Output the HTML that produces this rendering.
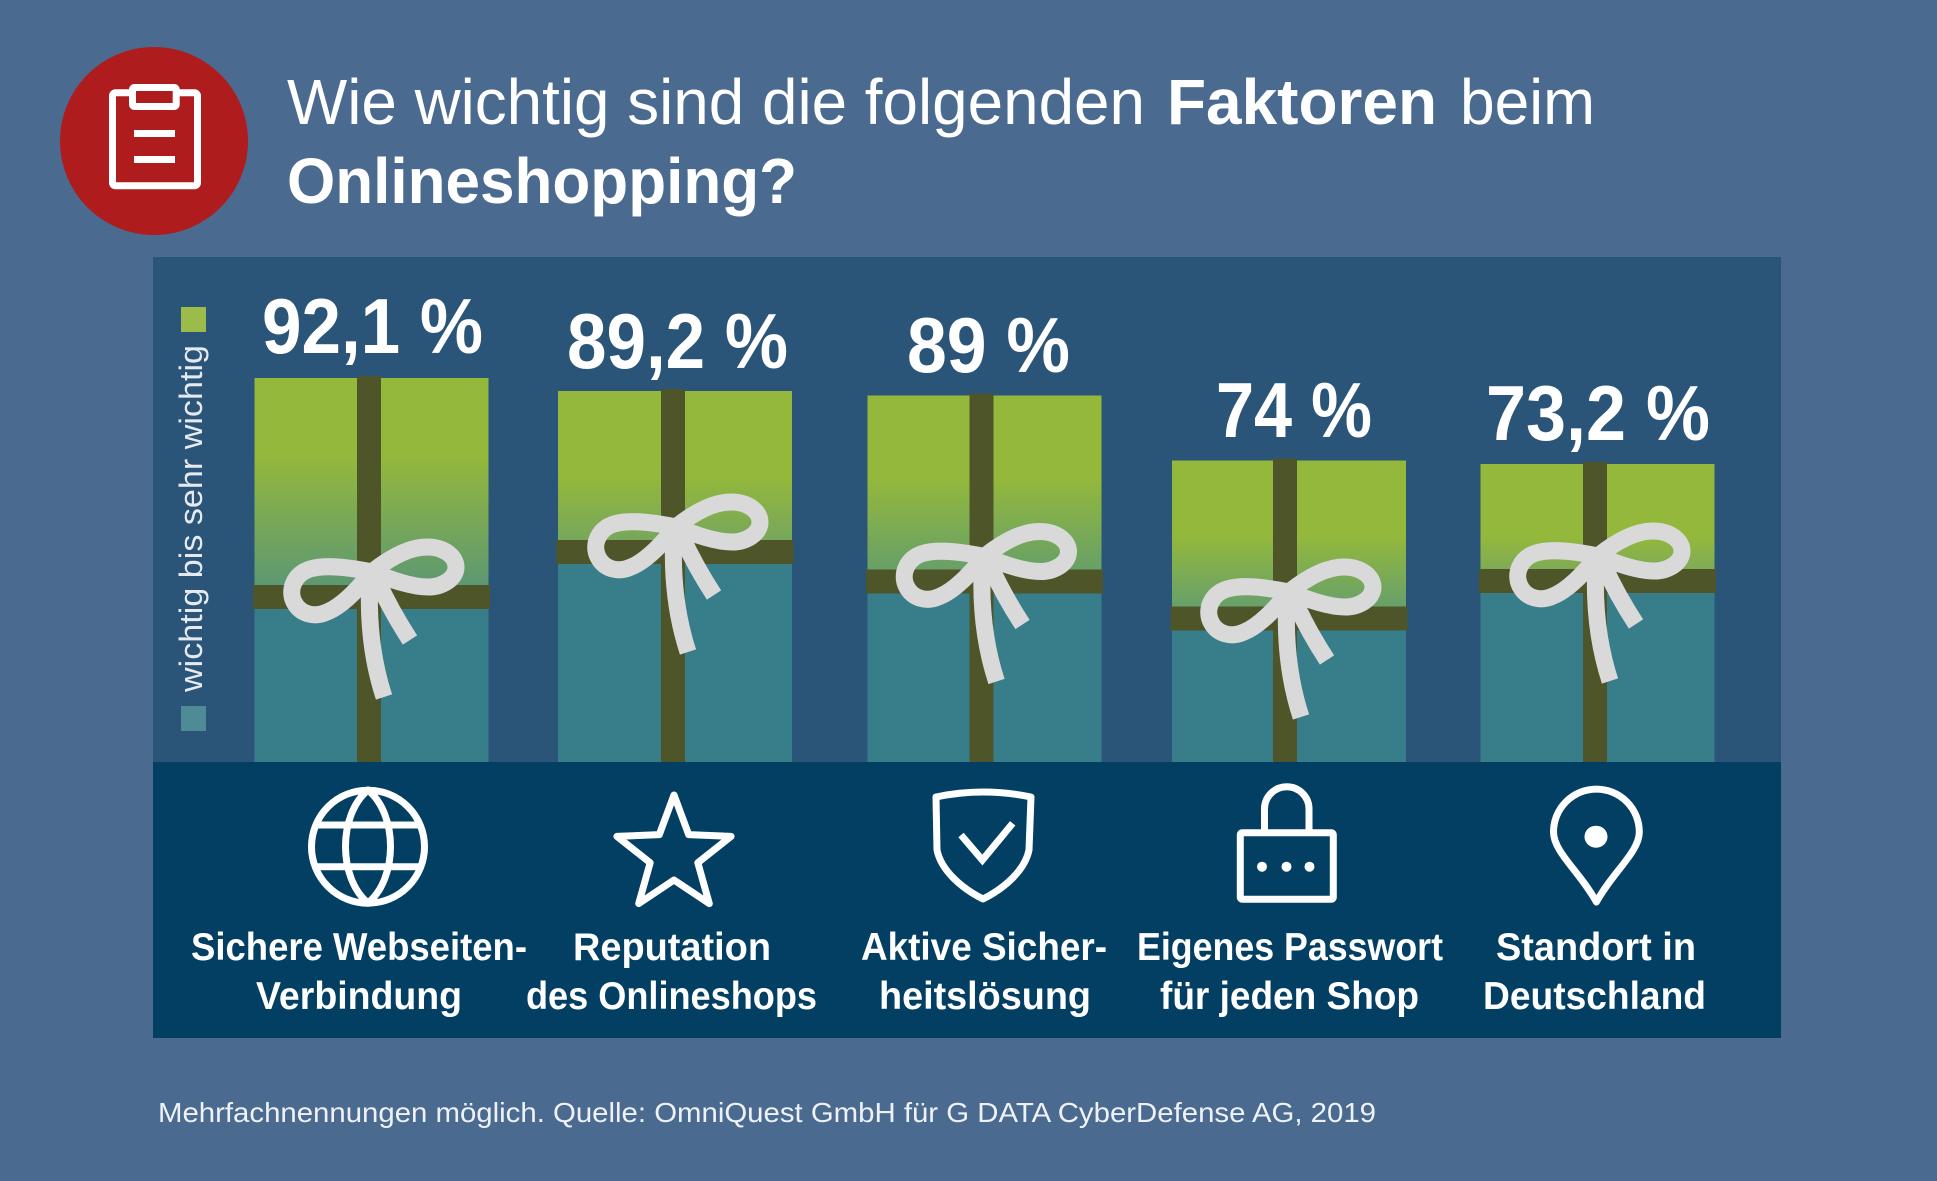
<!DOCTYPE html>
<html><head><meta charset="utf-8"><style>
html,body{margin:0;padding:0;background:#4a6a8f;}
svg{display:block;}
text{font-family:"Liberation Sans",sans-serif;}
</style></head><body>
<svg width="1937" height="1181" viewBox="0 0 1937 1181" xmlns="http://www.w3.org/2000/svg">
<defs>
<linearGradient id="g1" x1="0" y1="0" x2="0" y2="1"><stop offset="0.38" stop-color="#93b83c"/><stop offset="1" stop-color="#5e9872"/></linearGradient>
<linearGradient id="g2" x1="0" y1="0" x2="0" y2="1"><stop offset="0.58" stop-color="#93b83c"/><stop offset="1" stop-color="#77a75b"/></linearGradient>
<linearGradient id="g3" x1="0" y1="0" x2="0" y2="1"><stop offset="0.48" stop-color="#93b83c"/><stop offset="1" stop-color="#68a067"/></linearGradient>
<linearGradient id="g4" x1="0" y1="0" x2="0" y2="1"><stop offset="0.52" stop-color="#93b83c"/><stop offset="1" stop-color="#68a06a"/></linearGradient>
<linearGradient id="g5" x1="0" y1="0" x2="0" y2="1"><stop offset="0.70" stop-color="#93b83c"/><stop offset="1" stop-color="#80ab56"/></linearGradient>
</defs>
<rect width="1937" height="1181" fill="#4a6a8f"/>

<!-- header icon -->
<circle cx="154" cy="141" r="94" fill="#ae1c1e"/>
<rect x="112.5" y="92.8" width="85" height="93" rx="3" fill="none" stroke="#fff" stroke-width="7"/>
<rect x="132.5" y="87.5" width="43.7" height="19" rx="2" fill="#ae1c1e" stroke="#fff" stroke-width="7"/>
<rect x="134" y="130" width="41" height="7" fill="#fff"/>
<rect x="134" y="156" width="41" height="7" fill="#fff"/>

<!-- title -->
<text x="287" y="124" font-size="64" fill="#fff" textLength="858" lengthAdjust="spacingAndGlyphs">Wie wichtig sind die folgenden</text>
<text x="1167" y="124" font-size="64" font-weight="bold" fill="#fff" textLength="270" lengthAdjust="spacingAndGlyphs">Faktoren</text>
<text x="1460" y="124" font-size="64" fill="#fff" textLength="135" lengthAdjust="spacingAndGlyphs">beim</text>
<text x="287" y="203" font-size="64" font-weight="bold" fill="#fff" textLength="510" lengthAdjust="spacingAndGlyphs">Onlineshopping?</text>

<!-- panel -->
<rect x="153" y="257" width="1628" height="505" fill="#2b5578"/>
<rect x="153" y="762" width="1628" height="276" fill="#023f63"/>

<!-- legend -->
<rect x="181" y="307" width="25" height="25" fill="#9bbb4b"/>
<rect x="181" y="706" width="25" height="25" fill="#4e8b97"/>
<text transform="translate(202,692) rotate(-90)" font-size="32" fill="#e4eaf0" textLength="347" lengthAdjust="spacingAndGlyphs">wichtig bis sehr wichtig</text>

<!-- gift 1 -->
<rect x="254.5" y="378" width="234" height="384" fill="#387e8a"/>
<rect x="254.5" y="378" width="234" height="207" fill="url(#g1)"/>
<rect x="357" y="376" width="24" height="386" fill="#4d5529"/>
<rect x="253" y="585" width="237" height="24" fill="#4d5529"/>
<g transform="translate(372,572)" fill="none" stroke="#d9d9d9" stroke-width="17">
<path d="M0,0 C-20,-4 -45,-8 -62,-3 C-78,2 -84,18 -78,30 C-72,42 -58,46 -45,40 C-30,34 -15,18 0,0"/>
<path d="M0,0 C15,-12 35,-25 55,-25 C73,-25 84,-15 84,-5 C84,7 70,15 56,15 C40,15 20,8 0,0"/>
<path d="M-2,5 C-4,40 -2,82 12,125"/>
<path d="M6,10 C15,30 25,48 38,68"/>
</g>
<text x="262" y="353" font-size="78" font-weight="bold" fill="#fff" textLength="221" lengthAdjust="spacingAndGlyphs">92,1 %</text>

<!-- gift 2 -->
<rect x="558" y="391" width="234" height="371" fill="#387e8a"/>
<rect x="558" y="391" width="234" height="149" fill="url(#g2)"/>
<rect x="661" y="389" width="24" height="373" fill="#4d5529"/>
<rect x="556.5" y="540" width="237" height="24" fill="#4d5529"/>
<g transform="translate(676,527)" fill="none" stroke="#d9d9d9" stroke-width="17">
<path d="M0,0 C-20,-4 -45,-8 -62,-3 C-78,2 -84,18 -78,30 C-72,42 -58,46 -45,40 C-30,34 -15,18 0,0"/>
<path d="M0,0 C15,-12 35,-25 55,-25 C73,-25 84,-15 84,-5 C84,7 70,15 56,15 C40,15 20,8 0,0"/>
<path d="M-2,5 C-4,40 -2,82 12,125"/>
<path d="M6,10 C15,30 25,48 38,68"/>
</g>
<text x="567" y="368" font-size="78" font-weight="bold" fill="#fff" textLength="221" lengthAdjust="spacingAndGlyphs">89,2 %</text>

<!-- gift 3 -->
<rect x="867.5" y="395.5" width="234" height="366.5" fill="#387e8a"/>
<rect x="867.5" y="395.5" width="234" height="174" fill="url(#g3)"/>
<rect x="969.5" y="393.5" width="24" height="368.5" fill="#4d5529"/>
<rect x="866" y="569.5" width="237" height="24" fill="#4d5529"/>
<g transform="translate(984.5,556.5)" fill="none" stroke="#d9d9d9" stroke-width="17">
<path d="M0,0 C-20,-4 -45,-8 -62,-3 C-78,2 -84,18 -78,30 C-72,42 -58,46 -45,40 C-30,34 -15,18 0,0"/>
<path d="M0,0 C15,-12 35,-25 55,-25 C73,-25 84,-15 84,-5 C84,7 70,15 56,15 C40,15 20,8 0,0"/>
<path d="M-2,5 C-4,40 -2,82 12,125"/>
<path d="M6,10 C15,30 25,48 38,68"/>
</g>
<text x="907" y="372" font-size="78" font-weight="bold" fill="#fff" textLength="163" lengthAdjust="spacingAndGlyphs">89 %</text>

<!-- gift 4 -->
<rect x="1172" y="460.5" width="234" height="301.5" fill="#387e8a"/>
<rect x="1172" y="460.5" width="234" height="146" fill="url(#g4)"/>
<rect x="1273" y="458.5" width="24" height="303.5" fill="#4d5529"/>
<rect x="1170.5" y="606.5" width="237" height="24" fill="#4d5529"/>
<g transform="translate(1289,592)" fill="none" stroke="#d9d9d9" stroke-width="17">
<path d="M0,0 C-20,-4 -45,-8 -62,-3 C-78,2 -84,18 -78,30 C-72,42 -58,46 -45,40 C-30,34 -15,18 0,0"/>
<path d="M0,0 C15,-12 35,-25 55,-25 C73,-25 84,-15 84,-5 C84,7 70,15 56,15 C40,15 20,8 0,0"/>
<path d="M-2,5 C-4,40 -2,82 12,125"/>
<path d="M6,10 C15,30 25,48 38,68"/>
</g>
<text x="1216" y="437" font-size="78" font-weight="bold" fill="#fff" textLength="156" lengthAdjust="spacingAndGlyphs">74 %</text>

<!-- gift 5 -->
<rect x="1480.5" y="464" width="234" height="298" fill="#387e8a"/>
<rect x="1480.5" y="464" width="234" height="105" fill="url(#g5)"/>
<rect x="1583" y="462" width="24" height="300" fill="#4d5529"/>
<rect x="1479" y="569" width="237" height="24" fill="#4d5529"/>
<g transform="translate(1598,556)" fill="none" stroke="#d9d9d9" stroke-width="17">
<path d="M0,0 C-20,-4 -45,-8 -62,-3 C-78,2 -84,18 -78,30 C-72,42 -58,46 -45,40 C-30,34 -15,18 0,0"/>
<path d="M0,0 C15,-12 35,-25 55,-25 C73,-25 84,-15 84,-5 C84,7 70,15 56,15 C40,15 20,8 0,0"/>
<path d="M-2,5 C-4,40 -2,82 12,125"/>
<path d="M6,10 C15,30 25,48 38,68"/>
</g>
<text x="1486" y="440" font-size="78" font-weight="bold" fill="#fff" textLength="224" lengthAdjust="spacingAndGlyphs">73,2 %</text>

<!-- icons -->
<g fill="none" stroke="#fff" stroke-width="7" stroke-linejoin="round">
<!-- globe -->
<circle cx="368" cy="846.7" r="56.5"/>
<path d="M368,790 C338,815 338,878 368,903 C398,878 398,815 368,790 Z"/>
<line x1="316" y1="825" x2="420" y2="825"/>
<line x1="316" y1="866.7" x2="420" y2="866.7"/>
<!-- star -->
<path d="M674,795 L688.7,834.6 L731.1,836.4 L697.8,862.7 L709.3,903.6 L674,880 L638.7,903.6 L650.2,862.7 L616.9,836.4 L659.3,834.6 Z"/>
<!-- shield -->
<path d="M936,797 Q983,787 1031,797 L1029,850 C1025,870 1005,888 983,899 C961,888 941,870 937,850 Z"/>
<path d="M961,835 L982.4,860 L1012.7,823.3" stroke-linejoin="miter"/>
<!-- lock -->
<path d="M1264.5,831 L1264.5,809 A22.25,22.25 0 0 1 1309,809 L1309,831"/>
<rect x="1240.3" y="832.8" width="93" height="66.4" rx="2"/>
<!-- pin -->
<path d="M1596.4,902 C1580,872 1553.5,852 1553.5,832 A42.9,42.9 0 0 1 1639.3,832 C1639.3,852 1612.8,872 1596.4,902 Z"/>
</g>
<g fill="#fff">
<circle cx="1262" cy="866.7" r="5"/>
<circle cx="1286.5" cy="866.7" r="5"/>
<circle cx="1309.5" cy="866.7" r="5"/>
<ellipse cx="1596" cy="836.7" rx="11.5" ry="11"/>
</g>

<!-- category labels -->
<g font-size="39" font-weight="bold" fill="#fff">
<text x="191" y="960" textLength="336" lengthAdjust="spacingAndGlyphs">Sichere Webseiten-</text>
<text x="256" y="1009" textLength="206" lengthAdjust="spacingAndGlyphs">Verbindung</text>
<text x="573" y="960" textLength="198" lengthAdjust="spacingAndGlyphs">Reputation</text>
<text x="526" y="1009" textLength="291" lengthAdjust="spacingAndGlyphs">des Onlineshops</text>
<text x="861" y="960" textLength="246" lengthAdjust="spacingAndGlyphs">Aktive Sicher-</text>
<text x="879" y="1009" textLength="212" lengthAdjust="spacingAndGlyphs">heitslösung</text>
<text x="1137" y="960" textLength="306" lengthAdjust="spacingAndGlyphs">Eigenes Passwort</text>
<text x="1160" y="1009" textLength="259" lengthAdjust="spacingAndGlyphs">für jeden Shop</text>
<text x="1496" y="960" textLength="200" lengthAdjust="spacingAndGlyphs">Standort in</text>
<text x="1483" y="1009" textLength="223" lengthAdjust="spacingAndGlyphs">Deutschland</text>
</g>

<!-- footer -->
<text x="158" y="1122" font-size="27.5" fill="#eef2f6" textLength="1218" lengthAdjust="spacingAndGlyphs">Mehrfachnennungen möglich. Quelle: OmniQuest GmbH für G DATA CyberDefense AG, 2019</text>
</svg>
</body></html>
